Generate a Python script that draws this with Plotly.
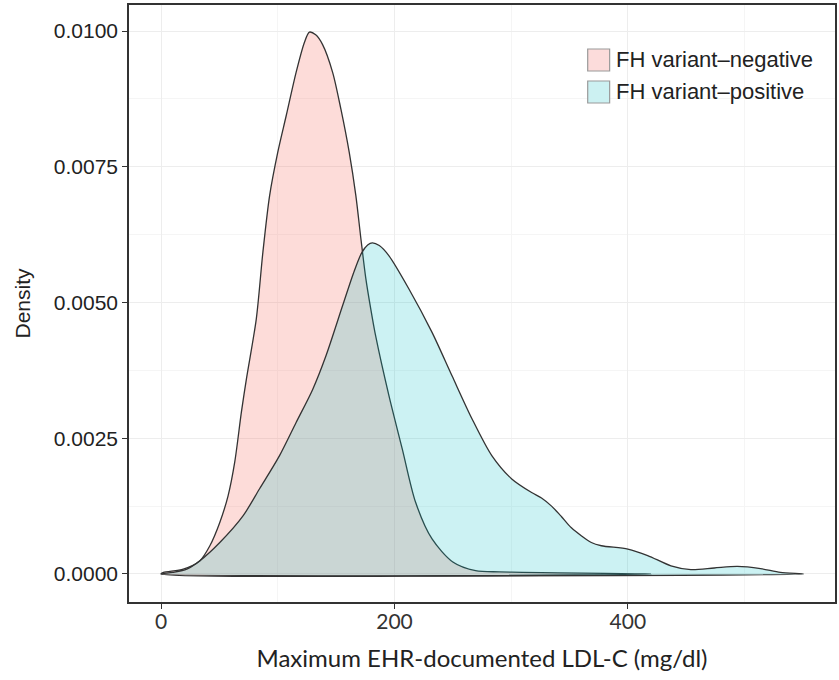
import plotly.graph_objects as go

# LDL-C (mg/dl) and density for each group
neg_x = [0, 2, 19, 33.3, 41.8, 50.3, 57.4, 63.1, 68.8, 73.1, 81.6, 87.2, 93, 100, 107.2,
         115.7, 122.8, 127.1, 132.5, 138.4, 147, 154.1, 161.2, 166.9, 171.2, 175.4, 179.7, 184,
         195.3, 206.7, 218.1, 232.2, 250, 269.5, 290, 309.6, 340, 380, 420]
neg_y = [0, 0.00003, 0.00009, 0.000245, 0.00052, 0.00095, 0.00144, 0.00206, 0.00298,
         0.00359, 0.0047, 0.00592, 0.00697, 0.00777, 0.00844, 0.00924, 0.00979, 0.00998,
         0.00993, 0.00975, 0.00924, 0.00856, 0.00777, 0.00697, 0.00618, 0.00545, 0.00488,
         0.00437, 0.00328, 0.0023, 0.00132, 0.000645, 0.00022, 0.00006, 0.00004, 0.00003,
         0.00002, 0.00001, 0]

pos_x = [0, 10, 22, 33.3, 50.3, 70.2, 84.4, 101.5, 115.7, 129.9, 141.3, 155.5, 165, 172,
         177, 181, 187, 195.3, 212.4, 232.2, 249.3, 266.4, 283.4, 300.5, 317.5, 326, 334.6,
         343, 351.6, 368.7, 377.3, 400, 417, 436.9, 454, 474, 493.8, 513.7, 530.7, 550.7]
pos_y = [0, 0.00003, 0.00009, 0.000245, 0.00058, 0.00107, 0.00157, 0.00218, 0.00279,
         0.0034, 0.00402, 0.00494, 0.00555, 0.00592, 0.00606, 0.0061, 0.00605, 0.00586,
         0.00525, 0.00445, 0.00365, 0.00286, 0.00218, 0.00175, 0.0015, 0.0014, 0.00125,
         0.00106, 0.00085, 0.00058, 0.00052, 0.00046, 0.00034, 0.00015, 0.00008, 0.00011,
         0.00014, 0.0001, 0.00003, 0]

names = ["FH variant\u2013negative", "FH variant\u2013positive"]
fills = ["rgba(248,118,109,0.26)", "rgba(0,191,196,0.2)"]
key_fills = ["#FCDCDB", "#CCF1F2"]

x_ticks = [0, 200, 400]
y_ticks = [0.0, 0.0025, 0.005, 0.0075, 0.01]

fig = go.Figure()
for xs, ys, nm, fc in [(neg_x, neg_y, names[0], fills[0]), (pos_x, pos_y, names[1], fills[1])]:
    fig.add_trace(go.Scatter(
        x=xs + [xs[0]], y=ys + [ys[0]], mode="lines", fill="toself", fillcolor=fc,
        line=dict(color="#333333", width=1.3, shape="spline", smoothing=0.8),
        name=nm, hoverinfo="x+y", showlegend=False))

# Legend drawn in paper coordinates (square keys as in the reference)
L, R, T, B = 129, 837, 5, 602
def px_x(p):
    return (p - L) / (R - L)
def px_y(p):
    return 1 - (p - T) / (B - T)

for i, (nm, kf) in enumerate(zip(names, key_fills)):
    top = 49 + 32 * i
    fig.add_shape(type="rect", xref="paper", yref="paper",
                  x0=px_x(589), x1=px_x(611), y0=px_y(top + 22), y1=px_y(top),
                  fillcolor=kf, line=dict(color="#9A9A9A", width=1.2))
    fig.add_annotation(text=nm, xref="paper", yref="paper", x=px_x(615), y=px_y(top + 11),
                       xanchor="left", yanchor="middle", showarrow=False,
                       font=dict(family="Liberation Sans, Arial", size=22, color="#222222"))

axis_common = dict(showline=True, linecolor="#333333", linewidth=1.5, mirror=True,
                   ticks="outside", ticklen=5, tickcolor="#333333", tickwidth=1.2,
                   showgrid=True, gridcolor="#EDEDED", gridwidth=1, zeroline=False)

fig.update_layout(
    width=839, height=680,
    margin=dict(l=L, r=839 - R, t=T, b=680 - B),
    paper_bgcolor="white", plot_bgcolor="white",
    showlegend=False,
    xaxis=dict(range=[-27.5, 577.5], tickvals=x_ticks, ticktext=[str(v) for v in x_ticks],
               tickfont=dict(family="Lato", size=21, color="#333333"),
               ticklabelstandoff=-5,
               minor=dict(dtick=100, tick0=0, showgrid=True, gridcolor="#F5F5F5", ticks=""),
               title=dict(text="Maximum EHR-documented LDL-C (mg/dl)",
                          font=dict(family="Lato", size=24, color="#222222"), standoff=18),
               **axis_common),
    yaxis=dict(range=[-0.000516, 0.01048], tickvals=y_ticks, tickformat=".4f",
               tickfont=dict(family="Liberation Sans, Arial", size=21, color="#222222"),
               minor=dict(dtick=0.00125, tick0=0, showgrid=True, gridcolor="#F5F5F5", ticks=""),
               title=dict(text="Density", font=dict(family="Liberation Sans, Arial", size=21,
                                                     color="#222222"), standoff=17),
               **axis_common),
)

fig.write_html("out.html")
